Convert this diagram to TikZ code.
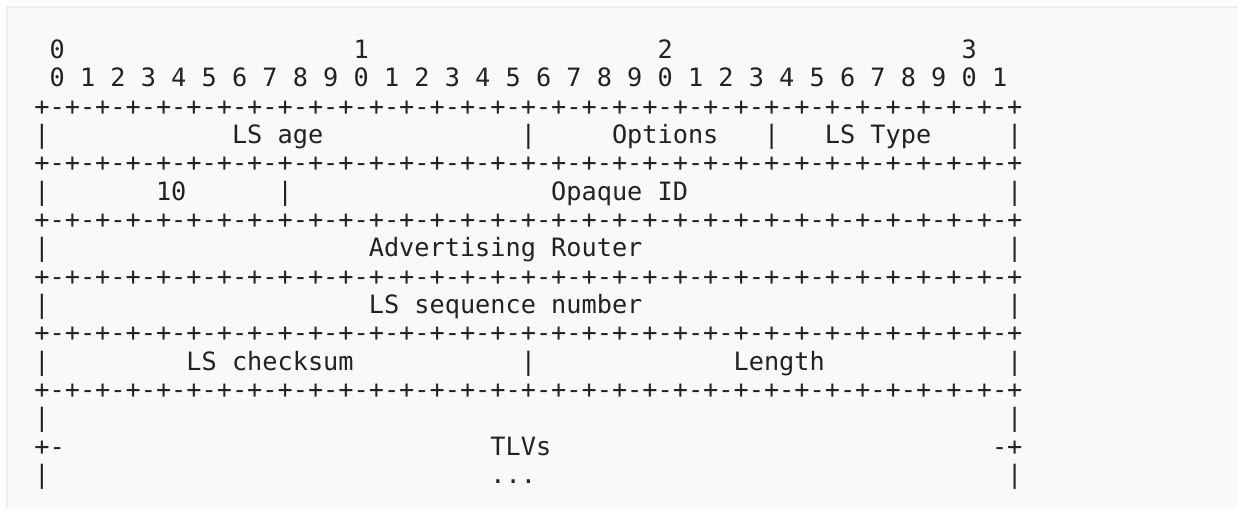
\documentclass[tikz,border=0pt]{standalone}
\usepackage{fontspec}
\setmonofont{DejaVu Sans Mono}
\definecolor{figbg}{HTML}{F9F9F9}
\definecolor{figrule}{HTML}{EEEEEE}
\definecolor{figink}{HTML}{222222}
\newcommand\bitrule{+-+-+-+-+-+-+-+-+-+-+-+-+-+-+-+-+-+-+-+-+-+-+-+-+-+-+-+-+-+-+-+-+}

\begin{document}
\begin{tikzpicture}[x=1pt,y=-1pt,
   cell/.style={anchor=base west,inner sep=0pt,outer sep=0pt,text=figink,
      font=\ttfamily\fontsize{25.25}{28.33}\selectfont}]
\useasboundingbox (0,0) rectangle (1238,508);
\fill[figbg] (7,7) rectangle (1238,508);
\draw[figrule,line width=2pt] (1238,7) -- (7,7) -- (7,508);
\begin{scope}[shift={(34.4,30.17)},x=15.2pt,y=-28.33pt]
% bit numbers
\node[cell] (tens0) at (1,1) {0};
\node[cell] (tens1) at (21,1) {1};
\node[cell] (tens2) at (41,1) {2};
\node[cell] (tens3) at (61,1) {3};
\foreach \i in {0,...,31}{
   \pgfmathtruncatemacro\digit{mod(\i,10)}
   \node[cell] (bit\i) at ({1+2*\i},2) {\digit};
}
% rules between the words
\foreach \r in {3,5,7,9,11,13}
   \node[cell] (rule\r) at (0,\r) {\bitrule};
% side bars
\foreach \r in {4,6,8,10,12,14,16}{
   \node[cell] (left\r) at (0,\r) {|};
   \node[cell] (right\r) at (64,\r) {|};
}
\node[cell] (sepage) at (32,4) {|};
\node[cell] (sepopt) at (48,4) {|};
\node[cell] (septype) at (16,6) {|};
\node[cell] (sepsum) at (32,12) {|};
% fields
\node[cell] (age) at (13,4) {LS age};
\node[cell] (options) at (38,4) {Options};
\node[cell] (lstype) at (52,4) {LS Type};
\node[cell] (ten) at (8,6) {10};
\node[cell] (opaque) at (34,6) {Opaque ID};
\node[cell] (advrouter) at (22,8) {Advertising Router};
\node[cell] (seqnum) at (22,10) {LS sequence number};
\node[cell] (checksum) at (10,12) {LS checksum};
\node[cell] (length) at (46,12) {Length};
\node[cell] (tlvl) at (0,15) {+-};
\node[cell] (tlvs) at (30,15) {TLVs};
\node[cell] (tlvr) at (63,15) {-+};
\node[cell] (more) at (30,16) {...};
\end{scope}
\end{tikzpicture}
\end{document}
